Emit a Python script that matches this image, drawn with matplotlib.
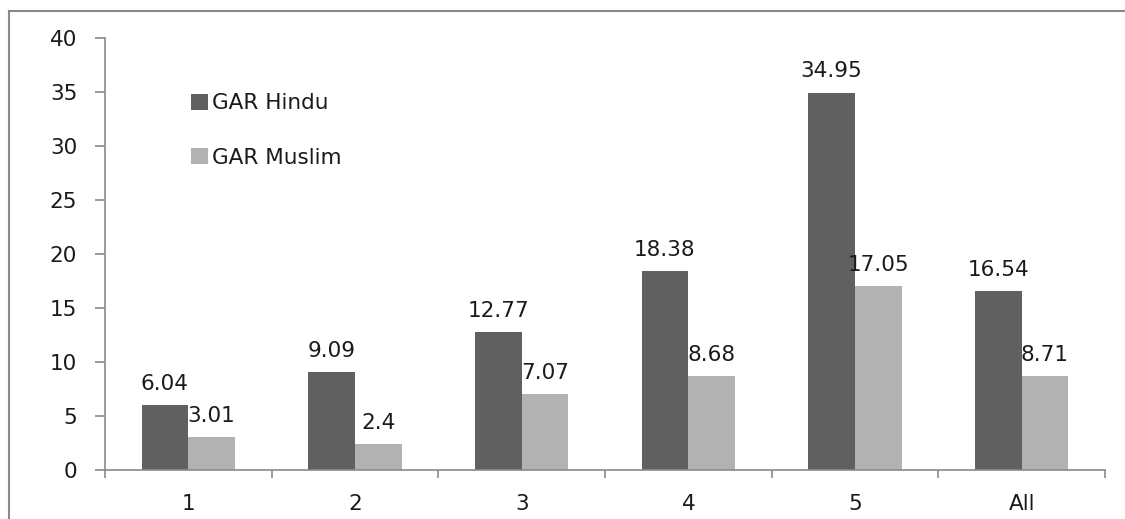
import matplotlib
matplotlib.use('agg')
import matplotlib.pyplot as plt
from matplotlib.lines import Line2D
import numpy as np

categories = ['1', '2', '3', '4', '5', 'All']
gar_hindu = [6.04, 9.09, 12.77, 18.38, 34.95, 16.54]
gar_muslim = [3.01, 2.4, 7.07, 8.68, 17.05, 8.71]

dark = '#606060'
light = '#b2b2b2'
axis_gray = '#8a8a8a'
text_col = '#1a1a1a'

plt.rcParams['font.family'] = 'DejaVu Sans'

fig = plt.figure(figsize=(11.25, 5.19), dpi=100)
ax = fig.add_axes([105 / 1125, 1 - 470 / 519, 1000 / 1125, 432 / 519])

x = np.arange(len(categories))
w = 0.28
bars_h = ax.bar(x - w / 2, gar_hindu, w, color=dark, label='GAR Hindu')
bars_m = ax.bar(x + w / 2, gar_muslim, w, color=light, label='GAR Muslim')

# value labels above each bar
for bars in (bars_h, bars_m):
    for b in bars:
        v = b.get_height()
        ax.annotate(f'{v:g}', (b.get_x() + b.get_width() / 2, v),
                    xytext=(0, 8), textcoords='offset points',
                    ha='center', va='bottom', fontsize=15.5, color=text_col)

ax.set_xlim(-0.5, len(categories) - 0.5)
ax.set_ylim(0, 40)
ax.set_yticks(range(0, 41, 5))
ax.set_xticks(x)
ax.set_xticklabels(categories)
ax.set_xticks(np.arange(-0.5, len(categories)), minor=True)

for s in ('top', 'right'):
    ax.spines[s].set_visible(False)
for s in ('left', 'bottom'):
    ax.spines[s].set_color(axis_gray)
    ax.spines[s].set_linewidth(1.2)

ax.tick_params(axis='y', length=7, width=1.2, color=axis_gray, pad=13,
               labelsize=15.5, labelcolor=text_col)
ax.tick_params(axis='x', which='major', length=0, pad=17,
               labelsize=15.5, labelcolor=text_col)
ax.tick_params(axis='x', which='minor', length=6, width=1.2, color=axis_gray)

ax.legend(loc='upper left', bbox_to_anchor=(172 / 1125, 1 - 74 / 519),
          bbox_transform=fig.transFigure, frameon=False, fontsize=15.5,
          handlelength=0.75, handleheight=0.75, handletextpad=0.2,
          labelspacing=1.6, labelcolor=text_col)

# chart area border, top and left edges only
bx, by = 9 / 1125, 1 - 11 / 519
fig.add_artist(Line2D([bx, 1.0], [by, by], transform=fig.transFigure,
                      color=axis_gray, linewidth=1.5))
fig.add_artist(Line2D([bx, bx], [0.0, by], transform=fig.transFigure,
                      color=axis_gray, linewidth=1.5))

fig.savefig('out.png', dpi=100)
